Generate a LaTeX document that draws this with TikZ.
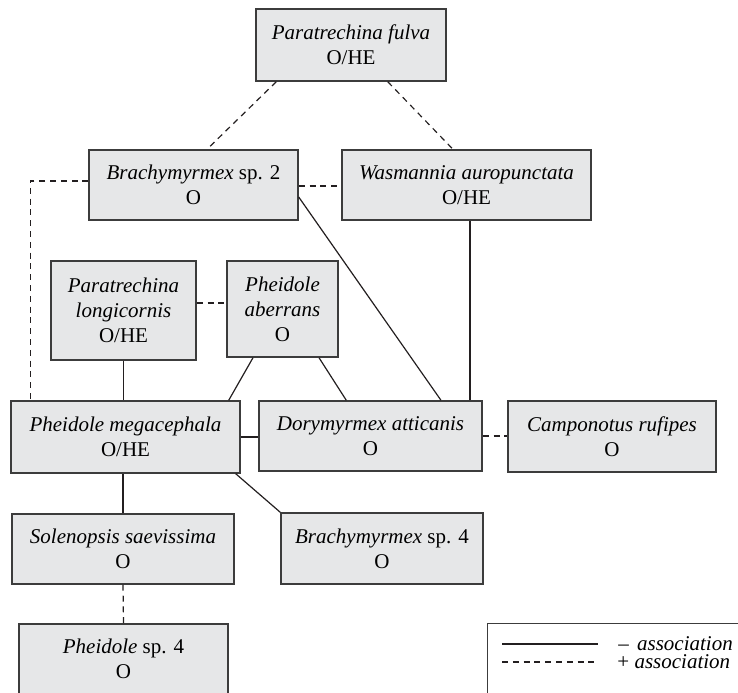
\documentclass[tikz,border=0pt]{standalone}
\usepackage{fontspec}
\setmainfont{Liberation Serif}
\usetikzlibrary{positioning}

\definecolor{boxfill}{RGB}{230,231,232}
\definecolor{boxline}{RGB}{60,60,60}
\definecolor{linkline}{RGB}{35,31,32}

\begin{document}
\begin{tikzpicture}[x=0.5pt, y=-0.5pt,
  species/.style={draw=boxline, fill=boxfill, rectangle, line width=0.7pt, align=center, inner sep=0pt,
    font=\fontsize{10.5pt}{12.5pt}\selectfont},
  negline/.style={draw=linkline, line width=0.6pt},
  posline/.style={draw=linkline, line width=0.6pt, dash pattern=on 3pt off 2.4pt}]

\useasboundingbox (0,0) rectangle (738,692);

\node (fulva) [species, minimum width=95pt, minimum height=36pt] at (351,45) {\textit{Paratrechina fulva}\\O/HE};
\node (brachy2) [species, minimum width=104.5pt, minimum height=35pt] at (193.5,185) {\textit{Brachymyrmex} sp. 2\\O};
\node (wasm) [species, minimum width=124.5pt, minimum height=35pt] at (466.5,185) {\textit{Wasmannia auropunctata}\\O/HE};
\node (longi) [species, minimum width=72.5pt, minimum height=49.5pt] at (123.5,310.5) {\textit{Paratrechina}\\\textit{longicornis}\\O/HE};
\node (aberr) [species, minimum width=55.5pt, minimum height=48pt] at (282.5,309) {\textit{Pheidole}\\\textit{aberrans}\\O};
\node (megac) [species, minimum width=114.5pt, minimum height=36pt] at (125.5,437) {\textit{Pheidole megacephala}\\O/HE};
\node (dory) [species, minimum width=111.5pt, minimum height=35pt] at (370.5,436) {\textit{Dorymyrmex atticanis}\\O};
\node (campo) [species, minimum width=104pt, minimum height=35.5pt] at (612,436.5) {\textit{Camponotus rufipes}\\O};
\node (sol) [species, minimum width=111pt, minimum height=35pt] at (123,549) {\textit{Solenopsis saevissima}\\O};
\node (bra4) [species, minimum width=101pt, minimum height=35.5pt] at (382,548.5) {\textit{Brachymyrmex} sp. 4\\O};
\node (ph4) [species, minimum width=104.5pt, minimum height=35pt] at (123.5,659) {\textit{Pheidole} sp. 4\\O};

% legend
\node (legend) [draw=boxline, line width=0.7pt, rectangle, minimum width=130pt, minimum height=40pt, anchor=north west] at (487,623) {};
\coordinate (negA) at (502,644);
\coordinate (negB) at (598,644);
\coordinate (posA) at (502,662);
\coordinate (posB) at (598,662);
\node (negtext) [anchor=west, inner sep=0pt, font=\fontsize{10.5pt}{12.5pt}\selectfont] at (618,644) {–\hspace{1.5pt} \textit{association}};
\node (postext) [anchor=west, inner sep=0pt, font=\fontsize{10.5pt}{12.5pt}\selectfont] at (617,662) {+ \textit{association}};
\draw[negline] (negA) -- (negB);
\draw[posline] (posA) -- (posB);

% positive associations
\draw[posline] ([xshift=10.5pt]fulva.south west) -- ([xshift=6.75pt]brachy2.north);
\draw[posline] ([xshift=-29.5pt]fulva.south east) -- ([xshift=-6.75pt]wasm.north);
\draw[posline] ([yshift=-0.5pt]brachy2.east) -- ([yshift=-0.5pt]brachy2.east -| wasm.west);
\draw[posline] ([yshift=2pt]brachy2.west) -| ([xshift=10pt]megac.north west);
\draw[posline] ([yshift=3.75pt]longi.east) -- ([yshift=3.75pt]longi.east -| aberr.west);
\draw[posline] (dory.east) -- (dory.east -| campo.west);
\draw[posline] (sol.south) -- (ph4.north);

% negative associations
\draw[negline] ([yshift=-6pt]brachy2.east) -- ([xshift=35.25pt]dory.north);
\draw[negline] ([xshift=1.75pt]wasm.south) -- ([xshift=1.75pt]wasm.south |- dory.north);
\draw[negline] (longi.south) -- (longi.south |- megac.north);
\draw[negline] ([xshift=-14.75pt]aberr.south) -- ([xshift=-6pt]megac.north east);
\draw[negline] ([xshift=18.25pt]aberr.south) -- ([xshift=44pt]dory.north west);
\draw[negline] (megac.east) -- (megac.east -| dory.west);
\draw[negline] (sol.north) -- (sol.north |- megac.south);
\draw[negline] ([xshift=-2.5pt]megac.south east) -- (bra4.north west);

\end{tikzpicture}
\end{document}
